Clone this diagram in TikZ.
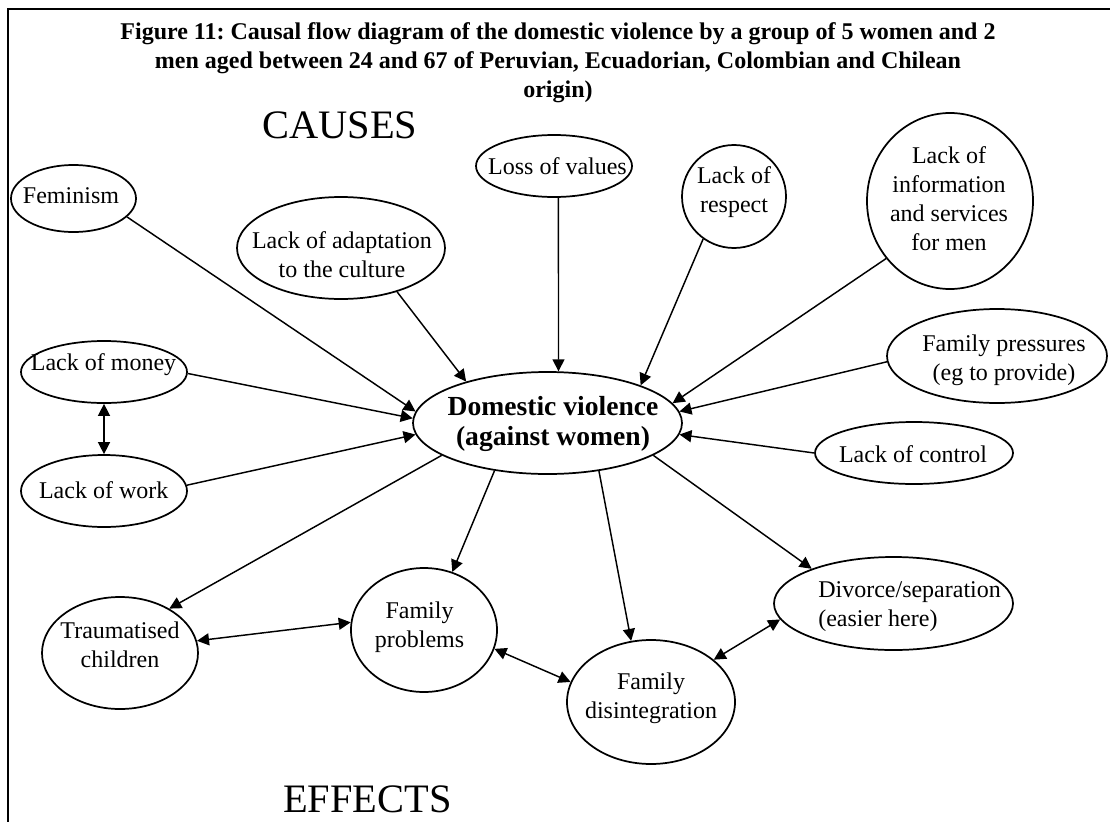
\documentclass[tikz,border=0pt]{standalone}
\usepackage{fontspec}
\setmainfont{Liberation Serif}
\usetikzlibrary{shapes.geometric,arrows.meta}
\frenchspacing

\begin{document}
\begin{tikzpicture}[x=0.75pt,y=-0.75pt,
  bubble/.style 2 args={ellipse, draw, line width=1.3pt, inner sep=0pt,
    minimum width=#1*1.5pt, minimum height=#2*1.5pt},
  lbl/.style={inner sep=0pt, font=\fontsize{18pt}{21.75pt}\selectfont, align=center},
  lblb/.style={lbl, anchor=base},
  ttl/.style={inner sep=0pt, anchor=base, font=\fontsize{18pt}{21.75pt}\selectfont\bfseries},
  big/.style={inner sep=0pt, anchor=base west, font=\fontsize{30.3pt}{36pt}\selectfont},
  tip/.tip={Triangle[length=9pt,width=9pt]},
  link/.style={line width=1.1pt, -tip},
  both/.style={line width=1.1pt, tip-tip}
]
\useasboundingbox (0,0) rectangle (1110,821);
\fill[white] (0,0) rectangle (1110,821);

% frame
\draw[line width=1.5pt] (8,830) -- (8,9) -- (1120,9);

% title
\node[ttl] (t1) at (558,39) {Figure 11: Causal flow diagram of the domestic violence by a group of 5 women and 2};
\node[ttl] (t2) at (558,68) {men aged between 24 and 67 of Peruvian, Ecuadorian, Colombian and Chilean};
\node[ttl] (t3) at (558,97) {origin)};

% headings
\node[big] (causes) at (262,138) {CAUSES};
\node[big] (effects) at (283,812) {EFFECTS};

% causes
\node[bubble={62.5}{33.5}] (fem) at (73.5,198.5) {};
\node[lblb] (femt) at (71,203) {Feminism};

\node[bubble={104}{51}] (adapt) at (341,248) {};
\node[lbl] (adaptt) at (342,254.3) {Lack of adaptation\\to the culture};

\node[bubble={78}{31}] (lov) at (554,166) {};
\node[lblb] (lovt) at (557.5,174) {Loss of values};

\node[bubble={52}{51.5}] (resp) at (734,196.5) {};
\node[lbl] (respt) at (734,192) {Lack of\\respect};

\node[bubble={83}{88}] (info) at (950,201) {};
\node[lbl] (infot) at (949,198.8) {Lack of\\information\\and services\\for men};

\node[bubble={110}{47}] (press) at (997,356) {};
\node[lbl] (presst) at (1004,360) {Family pressures\\(eg to provide)};

\node[bubble={99}{31}] (ctrl) at (914,453) {};
\node[lblb] (ctrlt) at (913,462) {Lack of control};

\node[bubble={83}{31}] (money) at (104,372) {};
\node[lblb] (moneyt) at (103.5,370) {Lack of money};

\node[bubble={83}{36}] (work) at (104,491) {};
\node[lblb] (workt) at (103.7,498) {Lack of work};

% centre
\node[bubble={134.5}{51}] (dv) at (547.5,423) {};
\node[lbl, font=\fontsize{20.7pt}{22.5pt}\selectfont\bfseries] (dvt) at (553,424) {Domestic violence\\(against women)};

% effects
\node[bubble={78}{56}] (trau) at (120,653) {};
\node[lbl] (traut) at (120,644.3) {Traumatised\\children};

\node[bubble={73}{62}] (fp) at (424,630) {};
\node[lbl] (fpt) at (419.5,627) {Family\\problems};

\node[bubble={84}{62}] (dis) at (651,702) {};
\node[lbl] (dist) at (651,698.4) {Family\\disintegration};

\node[bubble={119.5}{46.5}] (div) at (893.5,603.5) {};
\node[lbl, align=left, anchor=west] (divt) at (818,606.8) {Divorce/separation\\(easier here)};

% causes into the centre
\draw[link] (fem.-19) -- (dv.175);
\draw[link] (adapt.-38.4) -- (dv.153.6);
\draw[link] (lov.-82.6) -- (dv.78.3);
\draw[link] (resp.-126) -- (dv.22);
\draw[link] (info.222.6) -- (dv.9);
\draw[link] (press.183) -- (dv.5);
\draw[link] (ctrl.180) -- (dv.-5);
\draw[link] (money.-1) -- (dv.178);
\draw[link] (work.4) -- (dv.185);
\draw[both] (money.south) -- (work.north);

% centre to effects
\draw[link] (dv.197) -- (trau.42);
\draw[link] (dv.222) -- (fp.64);
\draw[link] (dv.317.6) -- (dis.108.7);
\draw[link] (dv.343) -- (div.157);

% links among effects
\draw[both] (trau.9.5) -- (fp.174);
\draw[both] (fp.-15) -- (dis.166);
\draw[both] (dis.34) -- (div.188);
\end{tikzpicture}
\end{document}
